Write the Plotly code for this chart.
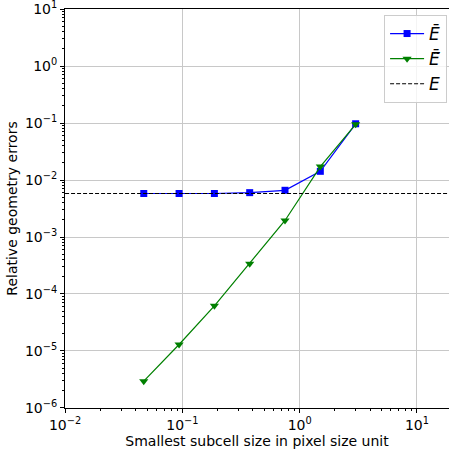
import plotly.graph_objects as go

# data
subcell_size = [0.046875, 0.09375, 0.1875, 0.375, 0.75, 1.5, 3.0]
err_bar = [0.0058, 0.0058, 0.0058, 0.0060, 0.0066, 0.0142, 0.097]
err_tilde_bar = [2.95e-6, 1.3e-5, 6.2e-5, 3.4e-4, 1.95e-3, 0.0172, 0.095]
err_ref = 0.0058

x_range = [0.01, 18.75]
x_tick_exp = [-2, -1, 0, 1]
y_tick_exp = [-6, -5, -4, -3, -2, -1, 0, 1]

def pow_label(e):
    return "10<sup>" + str(e).replace("-", "\u2212") + "</sup>"

def minor_vals(exps):
    return [k * 10.0 ** e for e in exps for k in range(2, 10)]

fig = go.Figure()
fig.add_trace(go.Scatter(
    x=subcell_size, y=err_bar, mode="lines+markers",
    name="<i>E\u0304</i>",
    line=dict(color="#0000ff", width=1.2),
    marker=dict(symbol="square", size=7, color="#0000ff")
))
fig.add_trace(go.Scatter(
    x=subcell_size, y=err_tilde_bar, mode="lines+markers",
    name="<i>E\u0304\u0303</i>",
    line=dict(color="#008000", width=1.2),
    marker=dict(symbol="triangle-down", size=8, color="#008000")
))
fig.add_trace(go.Scatter(
    x=x_range, y=[err_ref, err_ref], mode="lines",
    name="<i>E</i>",
    line=dict(color="#000000", width=1.2, dash="4px,2px")
))

axis_common = dict(
    type="log", showline=True, linecolor="black", linewidth=1,
    ticks="outside", ticklen=4, tickcolor="black", automargin=False,
    showgrid=True, gridcolor="#c8c8c8", gridwidth=1, zeroline=False,
    tickfont=dict(size=14, color="black"), ticklabeloverflow="allow",
)

fig.update_xaxes(
    **axis_common,
    range=[-2.0005, 1.273], mirror=True,
    tickmode="array",
    tickvals=[10.0 ** e for e in x_tick_exp],
    ticktext=[pow_label(e) for e in x_tick_exp],
    minor=dict(tickmode="array", tickvals=minor_vals(x_tick_exp),
               ticks="outside", ticklen=2, tickcolor="black", showgrid=False),
    title=dict(text="Smallest subcell size in pixel size unit",
               font=dict(size=14, color="black"), standoff=2),
)
fig.update_yaxes(
    **axis_common,
    range=[-6.0005, 1.0005],
    tickmode="array",
    tickvals=[10.0 ** e for e in y_tick_exp],
    ticktext=[pow_label(e) for e in y_tick_exp],
    minor=dict(tickmode="array", tickvals=minor_vals(y_tick_exp[:-1]),
               ticks="outside", ticklen=2, tickcolor="black", showgrid=False),
    title=dict(text="Relative geometry errors",
               font=dict(size=14, color="black"), standoff=4),
)

fig.update_layout(
    width=449, height=451,
    margin=dict(l=65, r=0, t=9, b=43, autoexpand=False),
    paper_bgcolor="white", plot_bgcolor="white",
    font=dict(family="DejaVu Sans", size=14, color="black"),
    legend=dict(
        x=0.995, y=0.985, xanchor="right", yanchor="top",
        bgcolor="rgba(255,255,255,0.8)", bordercolor="#cccccc", borderwidth=1,
        font=dict(size=17), itemwidth=34, tracegroupgap=0,
    ),
    showlegend=True,
)

fig.write_html("out.html", config={"displayModeBar": False},
               post_script="document.body.style.margin='0';")
